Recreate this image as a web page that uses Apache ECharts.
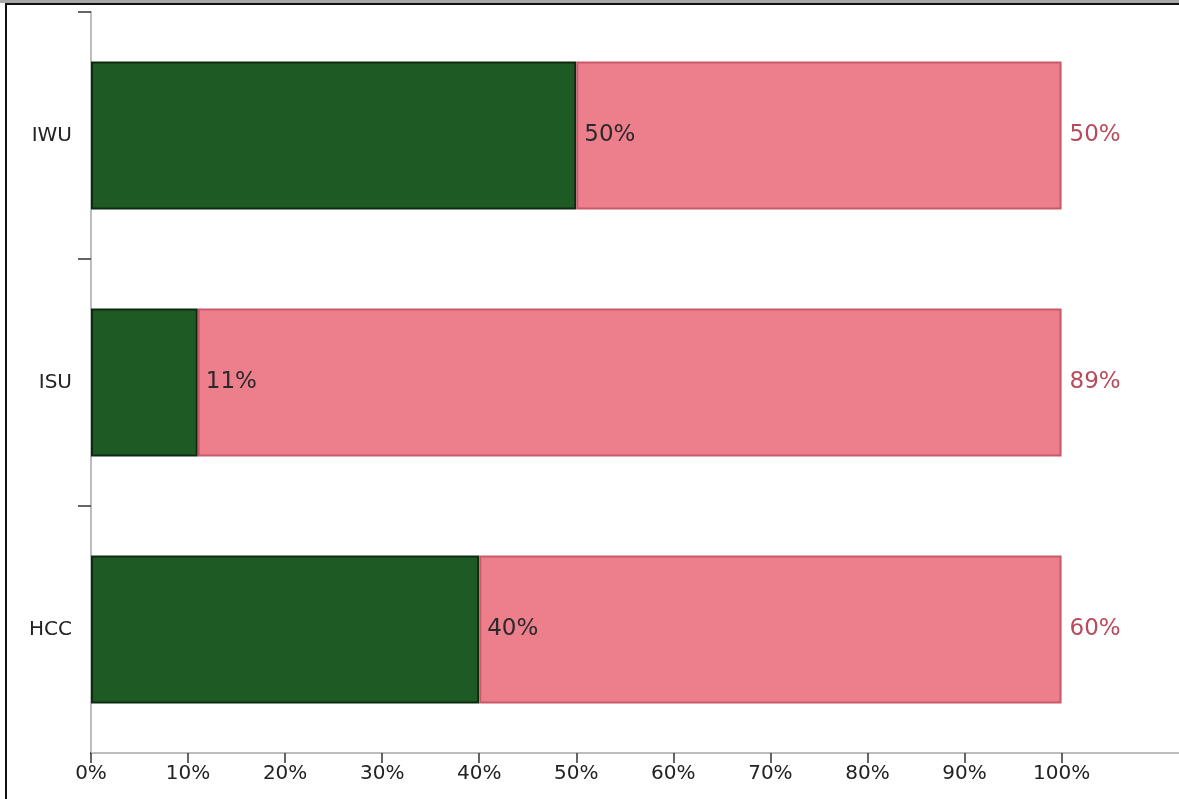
<!DOCTYPE html>
<html>
<head>
<meta charset="utf-8">
<script src="https://cdn.jsdelivr.net/npm/echarts@6/dist/echarts.min.js"></script>
<style>
html,body{margin:0;padding:0;background:#fff;}
#topband{position:absolute;left:0;top:0;width:1179px;height:3px;background:#a8a8a8;}
#frame{position:absolute;left:5px;top:3px;width:1174px;height:796px;border-left:2px solid #111;border-top:2px solid #111;box-sizing:border-box;}
#chart{position:absolute;left:0;top:0;width:1179px;height:799px;}
</style>
</head>
<body>
<div id="topband"></div>
<div id="frame"></div>
<div id="chart"></div>
<script>
const categories = ['HCC', 'ISU', 'IWU'];
const greenValues = [40, 11, 50];
const pinkValues = [60, 89, 50];
const tickValues = [0, 10, 20, 30, 40, 50, 60, 70, 80, 90, 100];

const chart = echarts.init(document.getElementById('chart'), null, {renderer: 'canvas'});
const font = 'DejaVu Sans';
chart.setOption({
  animation: false,
  backgroundColor: 'transparent',
  grid: {left: 91, right: 0, top: 12, bottom: 46, containLabel: false},
  xAxis: {
    type: 'value', min: 0, max: 112.1, interval: 10,
    splitLine: {show: false},
    axisLine: {show: true, lineStyle: {color: '#bdbdbd', width: 2}},
    axisTick: {show: true, length: 10, lineStyle: {color: '#333', width: 1.5}, customValues: tickValues},
    axisLabel: {customValues: tickValues, formatter: v => v + '%', color: '#222', fontFamily: font, fontSize: 20, margin: 11}
  },
  yAxis: {
    type: 'category', data: categories,
    axisLine: {show: true, lineStyle: {color: '#bdbdbd', width: 2}},
    axisTick: {show: true, length: 13, lineStyle: {color: '#333', width: 1.5}},
    axisLabel: {color: '#222', fontFamily: font, fontSize: 20, margin: 19}
  },
  graphic: [{
    type: 'rect', left: 74, top: 750, shape: {width: 16, height: 6},
    style: {fill: '#fff'}, z: 100
  }],
  series: [
    {
      type: 'bar', stack: 's', data: greenValues, barCategoryGap: '40%',
      itemStyle: {color: '#1e5a24', borderColor: '#0c2a0f', borderWidth: 2},
      label: {show: true, position: 'right', distance: 8, formatter: p => p.value + '%', color: '#2a2a2a', fontFamily: font, fontSize: 23}
    },
    {
      type: 'bar', stack: 's', data: pinkValues, barCategoryGap: '40%',
      itemStyle: {color: '#ed7e8b', borderColor: '#c95868', borderWidth: 2},
      label: {show: true, position: 'right', distance: 8, formatter: p => p.value + '%', color: '#b84a5b', fontFamily: font, fontSize: 23}
    }
  ]
});
</script>
</body>
</html>
